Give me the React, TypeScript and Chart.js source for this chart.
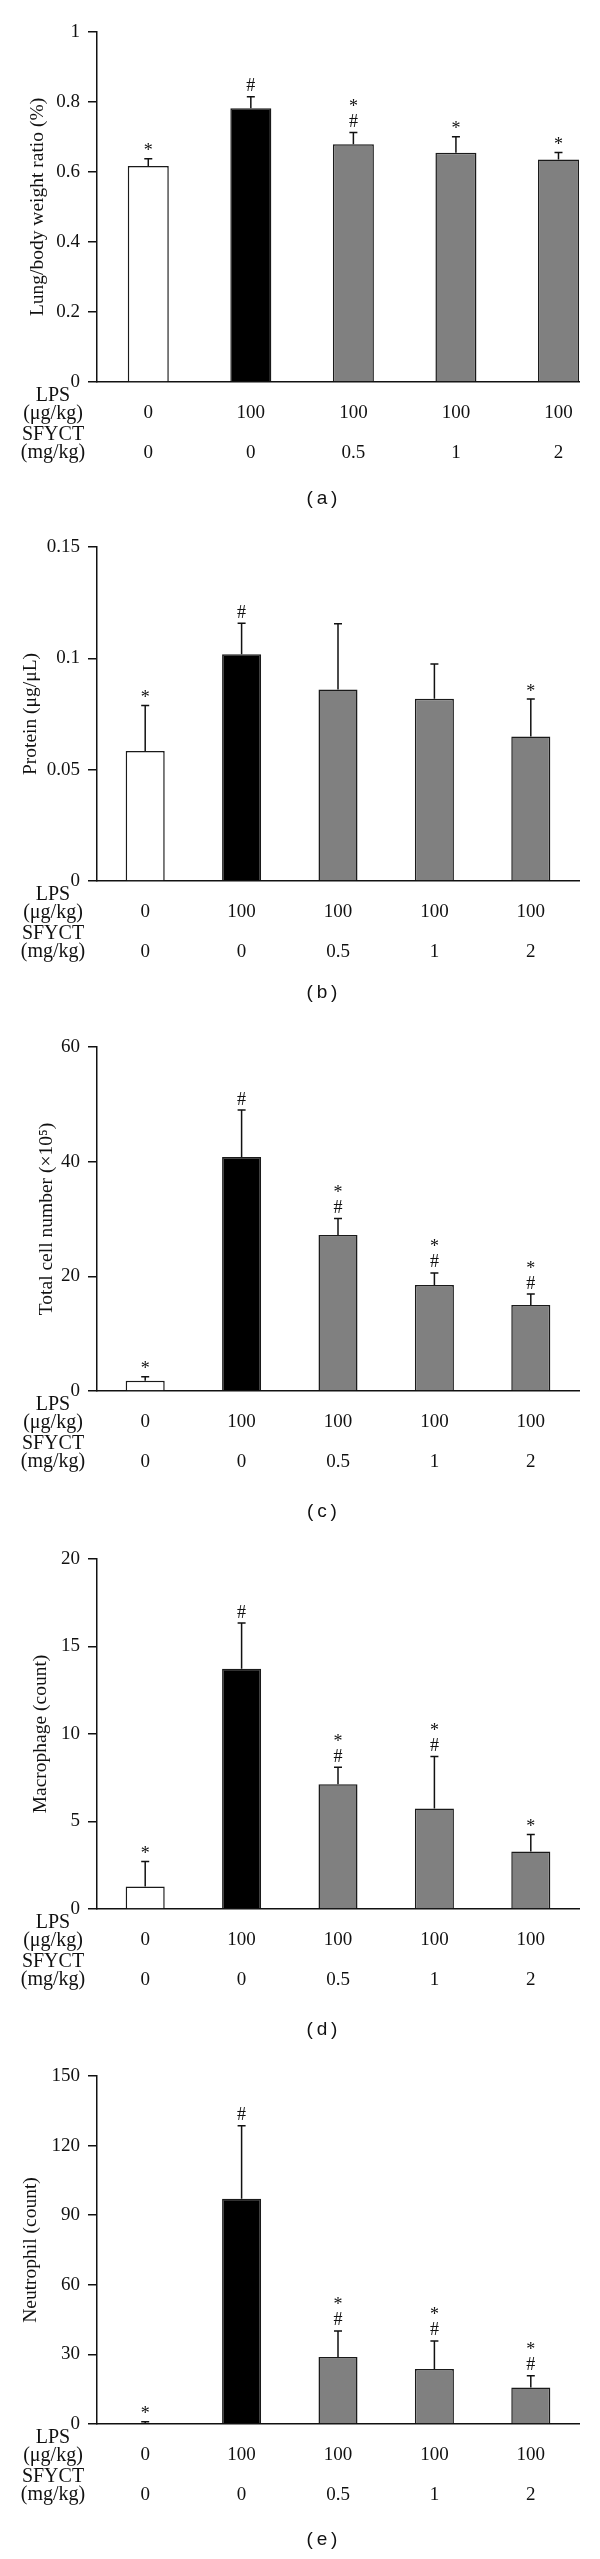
import React, { useEffect, useRef } from "react";
import { Chart, registerables } from "chart.js";

Chart.register(...registerables);

// ---- shared categories ----
const groups = [0, 1, 2, 3, 4];
const lpsDose = ["0", "100", "100", "100", "100"];
const sfyctDose = ["0", "0", "0.5", "1", "2"];
const rowHeaders = ["LPS", "(μg/kg)", "SFYCT", "(mg/kg)"];
const barFills = ["#ffffff", "#000000", "#808080", "#808080", "#808080"];

// ---- (a) lung / body weight ratio ----
const lungValues = [0.617, 0.782, 0.679, 0.655, 0.636];
const lungErrTop = [0.638, 0.815, 0.713, 0.701, 0.656];
const lungMarks = ["*", "#", "#*", "*", "*"];
const lungTicks = [0, 0.2, 0.4, 0.6, 0.8, 1];

// ---- (b) protein ----
const proteinValues = [0.0584, 0.1018, 0.086, 0.0818, 0.0649];
const proteinErrTop = [0.0788, 0.1158, 0.1155, 0.0975, 0.0817];
const proteinMarks = ["*", "#", "", "", "*"];
const proteinTicks = [0, 0.05, 0.1, 0.15];

// ---- (c) total cell number ----
const totalValues = [1.8, 40.8, 27.2, 18.5, 15.0];
const totalErrTop = [2.5, 49.0, 30.1, 20.6, 16.9];
const totalMarks = ["*", "#", "#*", "#*", "#*"];
const totalTicks = [0, 20, 40, 60];

// ---- (d) macrophage ----
const macroValues = [1.29, 13.73, 7.13, 5.74, 3.29];
const macroErrTop = [2.72, 16.34, 8.1, 8.71, 4.26];
const macroMarks = ["*", "#", "#*", "#*", "*"];
const macroTicks = [0, 5, 10, 15, 20];

// ---- (e) neutrophil ----
const neutroValues = [0.4, 97.1, 28.9, 23.7, 15.7];
const neutroErrTop = [1.0, 128.6, 40.1, 35.8, 20.8];
const neutroMarks = ["*", "#", "#*", "#*", "#*"];
const neutroTicks = [0, 30, 60, 90, 120, 150];

const SERIF = '"Liberation Serif", "Times New Roman", serif';
const SANS = '"Liberation Sans", Arial, sans-serif';
const INK = "#111111";

type Panel = {
  values: number[];
  errTop: number[];
  marks: string[];
  yTicks: number[];
  title: string;
  caption: string;
  top: number; // canvas top on page
  plotH: number;
  xMax: number;
  barPct: number;
  titleCenter: number;
  captionOffset: number;
};

const panels: Panel[] = [
  { values: lungValues, errTop: lungErrTop, marks: lungMarks, yTicks: lungTicks, title: "Lung/body weight ratio (%)", caption: "a", top: 0, plotH: 350, xMax: 4.2, barPct: 0.4, titleCenter: 38, captionOffset: 117 },
  { values: proteinValues, errTop: proteinErrTop, marks: proteinMarks, yTicks: proteinTicks, title: "Protein (μg/μL)", caption: "b", top: 515, plotH: 334, xMax: 4.5, barPct: 0.405, titleCenter: 31, captionOffset: 112 },
  { values: totalValues, errTop: totalErrTop, marks: totalMarks, yTicks: totalTicks, title: "Total cell number (×10⁵)", caption: "c", top: 1015, plotH: 344, xMax: 4.5, barPct: 0.405, titleCenter: 47, captionOffset: 121 },
  { values: macroValues, errTop: macroErrTop, marks: macroMarks, yTicks: macroTicks, title: "Macrophage (count)", caption: "d", top: 1527, plotH: 350, xMax: 4.5, barPct: 0.405, titleCenter: 41, captionOffset: 121 },
  { values: neutroValues, errTop: neutroErrTop, marks: neutroMarks, yTicks: neutroTicks, title: "Neutrophil (count)", caption: "e", top: 2044, plotH: 348, xMax: 4.5, barPct: 0.405, titleCenter: 31, captionOffset: 116 },
];

const PAD_TOP = 32;
const X_AXIS_H = 135;
const Y_AXIS_W = 97;
const PAD_RIGHT = 21;

function drawCenteredGlyph(ctx: CanvasRenderingContext2D, text: string, x: number, cy: number) {
  const m = ctx.measureText(text);
  const asc = m.actualBoundingBoxAscent || 0;
  const desc = m.actualBoundingBoxDescent || 0;
  ctx.textBaseline = "alphabetic";
  ctx.textAlign = "center";
  ctx.fillText(text, x, cy + (asc - desc) / 2);
}

function PanelChart({ p }: { p: Panel }) {
  const ref = useRef<HTMLCanvasElement | null>(null);
  const height = PAD_TOP + p.plotH + X_AXIS_H;

  useEffect(() => {
    if (!ref.current) return;
    const decor = {
      id: "decor",
      afterDatasetsDraw(chart: any) {
        const ctx: CanvasRenderingContext2D = chart.ctx;
        const ys = chart.scales.y;
        const meta = chart.getDatasetMeta(0);
        ctx.save();
        ctx.strokeStyle = INK;
        ctx.fillStyle = INK;
        ctx.lineWidth = 1.5;
        meta.data.forEach((bar: any, i: number) => {
          const x = bar.x;
          const ye = ys.getPixelForValue(p.errTop[i]);
          ctx.beginPath();
          ctx.moveTo(x, bar.y);
          ctx.lineTo(x, ye);
          ctx.moveTo(x - 4, ye);
          ctx.lineTo(x + 4, ye);
          ctx.stroke();
          ctx.font = `18px ${SERIF}`;
          p.marks[i].split("").forEach((m, k) => {
            drawCenteredGlyph(ctx, m, x, ye - 12 - k * 18);
          });
        });
        const base = chart.chartArea.bottom;
        ctx.font = `20px ${SERIF}`;
        ctx.textAlign = "center";
        ctx.textBaseline = "middle";
        const offs = [14, 32, 53, 71];
        rowHeaders.forEach((t, k) => ctx.fillText(t, 53, base + offs[k]));
        ctx.font = `19px ${SANS}`;
        ctx.fillText(`(\u2009${p.caption}\u2009)`, 322, base + p.captionOffset);
        ctx.restore();
      },
    };

    const chart = new Chart(ref.current, {
      type: "bar",
      data: {
        datasets: [
          {
            data: groups.map((g, i) => ({ x: g, y: p.values[i] })),
            backgroundColor: barFills,
            borderColor: "#1a1a1a",
            borderWidth: 1.5,
            barPercentage: p.barPct,
            categoryPercentage: 1,
          } as any,
        ],
      },
      options: {
        responsive: false,
        animation: false,
        devicePixelRatio: 1,
        layout: { padding: { top: PAD_TOP, right: PAD_RIGHT, left: 0, bottom: 0 } },
        plugins: { legend: { display: false }, tooltip: { enabled: false } },
        scales: {
          x: {
            type: "linear",
            min: -0.5,
            max: p.xMax,
            offset: false,
            afterBuildTicks: (s: any) => {
              s.ticks = groups.map((v) => ({ value: v }));
            },
            afterFit: (s: any) => {
              s.height = X_AXIS_H;
            },
            grid: { display: false },
            border: { display: true, color: INK, width: 1.5 },
            ticks: {
              padding: 3,
              color: INK,
              autoSkip: false,
              maxRotation: 0,
              font: { family: SERIF, size: 19, lineHeight: 40 / 19 },
              callback: (v: any) => [lpsDose[v], sfyctDose[v]],
            },
          },
          y: {
            min: 0,
            max: p.yTicks[p.yTicks.length - 1],
            afterBuildTicks: (s: any) => {
              s.ticks = p.yTicks.map((v) => ({ value: v }));
            },
            afterFit: (s: any) => {
              s.width = Y_AXIS_W;
            },
            grid: { drawOnChartArea: false, drawTicks: true, tickLength: 9, color: INK, lineWidth: 1.5 },
            border: { display: true, color: INK, width: 1.5 },
            ticks: {
              padding: 8,
              color: INK,
              font: { family: SERIF, size: 19 },
              callback: (v: any) => String(v),
            },
            title: {
              display: true,
              text: p.title,
              color: INK,
              font: { family: SERIF, size: 19.5, lineHeight: 1.2 },
              padding: { top: p.titleCenter - 11.7, bottom: 0 },
            },
          },
        },
      } as any,
      plugins: [decor],
    });
    return () => chart.destroy();
  }, [p]);

  return (
    <canvas
      ref={ref}
      width={600}
      height={height}
      style={{ position: "absolute", left: 0, top: p.top, width: 600, height }}
    />
  );
}

export default function App() {
  return (
    <div style={{ position: "absolute", left: 0, top: 0, width: 600, height: 2559, background: "#ffffff" }}>
      {panels.map((p, i) => (
        <PanelChart key={i} p={p} />
      ))}
    </div>
  );
}
